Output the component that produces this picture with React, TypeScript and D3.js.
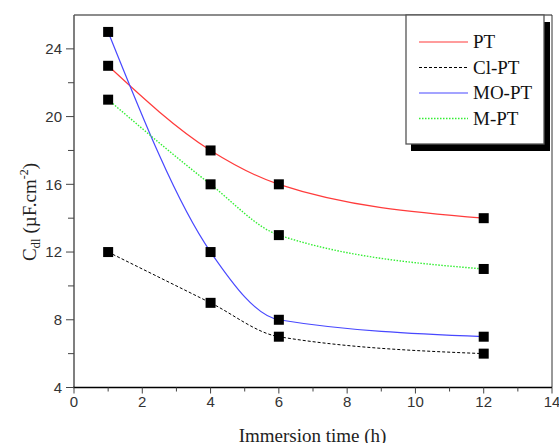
import React from "react";
import * as d3 from "d3";

const times = [1, 4, 6, 12];
const ptValues = [23, 18, 16, 14];
const clPtValues = [12, 9, 7, 6];
const moPtValues = [25, 12, 8, 7];
const mPtValues = [21, 16, 13, 11];
const seriesNames = ["PT", "Cl-PT", "MO-PT", "M-PT"];
const xTicks = [0, 2, 4, 6, 8, 10, 12, 14];
const yTicks = [4, 8, 12, 16, 20, 24];

const W = 559;
const H = 443;
const left = 74;
const right = 552;
const top = 15;
const bottom = 387.5;

export default function App() {
  const x = d3.scaleLinear().domain([0, 14]).range([left, right]);
  const y = d3.scaleLinear().domain([4, 26]).range([bottom, top]);

  const series = [
    { name: seriesNames[0], values: ptValues, color: "#ff3b3b", dash: "none", width: 1.2 },
    { name: seriesNames[1], values: clPtValues, color: "#000000", dash: "3,2", width: 1 },
    { name: seriesNames[2], values: moPtValues, color: "#4848ff", dash: "none", width: 1.2 },
    { name: seriesNames[3], values: mPtValues, color: "#33ee33", dash: "1.5,1.5", width: 1.4 },
  ];

  const line = d3
    .line<[number, number]>()
    .x((d) => x(d[0]))
    .y((d) => y(d[1]))
    .curve(d3.curveMonotoneX);

  const xMinor = d3.range(1, 14, 2);
  const yMinor = d3.range(6, 26, 4);

  const serif = "'Liberation Serif', 'Times New Roman', serif";
  const sans = "'Liberation Sans', Arial, sans-serif";

  return (
    <svg
      width={W}
      height={H}
      style={{ position: "absolute", left: 0, top: 0, background: "#fff" }}
    >
      <rect x={0} y={0} width={W} height={H} fill="#fff" />
      {/* frame */}
      <line x1={left} x2={right} y1={top} y2={top} stroke="#666" strokeWidth={1.5} />
      <line x1={right} x2={right} y1={top} y2={bottom} stroke="#333" strokeWidth={1} />
      <line x1={left} x2={left} y1={top} y2={bottom} stroke="#555" strokeWidth={1.5} />
      <line x1={left - 1} x2={right} y1={bottom} y2={bottom} stroke="#000" strokeWidth={1.3} />

      {/* y ticks */}
      {yTicks.map((t) => (
        <g key={"yt" + t}>
          <line x1={left - 8} x2={left} y1={y(t)} y2={y(t)} stroke="#444" strokeWidth={1} />
          <text
            x={left - 12}
            y={y(t)}
            dy="0.36em"
            textAnchor="end"
            fontFamily={sans}
            fontSize={15}
            fill="#333"
          >
            {t}
          </text>
        </g>
      ))}
      {yMinor.map((t) => (
        <line key={"ym" + t} x1={left - 6} x2={left} y1={y(t)} y2={y(t)} stroke="#444" strokeWidth={1} />
      ))}

      {/* x ticks */}
      {xTicks.map((t) => (
        <g key={"xt" + t}>
          <line x1={x(t)} x2={x(t)} y1={bottom} y2={bottom + 6} stroke="#444" strokeWidth={1} />
          <text
            x={x(t)}
            y={bottom + 19}
            textAnchor="middle"
            fontFamily={sans}
            fontSize={15}
            fill="#333"
          >
            {t}
          </text>
        </g>
      ))}
      {xMinor.map((t) => (
        <line key={"xm" + t} x1={x(t)} x2={x(t)} y1={bottom} y2={bottom + 4} stroke="#444" strokeWidth={1} />
      ))}

      {/* axis titles */}
      <text
        x={(left + right) / 2 - 0.5}
        y={442}
        textAnchor="middle"
        fontFamily={serif}
        fontSize={19}
        fill="#222"
      >
        Immersion time (h)
      </text>
      <text
        transform={`translate(36, 212) rotate(-90)`}
        textAnchor="middle"
        fontFamily={serif}
        fontSize={19}
        fill="#222"
      >
        C
        <tspan fontSize={13} dy={4}>dl</tspan>
        <tspan dy={-4}> (µF.cm</tspan>
        <tspan fontSize={12} dy={-8}>-2</tspan>
        <tspan dy={8}>)</tspan>
      </text>

      {/* curves */}
      {series.map((s) => (
        <path
          key={"l" + s.name}
          d={line(times.map((t, i) => [t, s.values[i]]))!}
          fill="none"
          stroke={s.color}
          strokeWidth={s.width}
          strokeDasharray={s.dash}
        />
      ))}

      {/* markers */}
      {series.map((s) =>
        times.map((t, i) => (
          <rect
            key={"m" + s.name + t}
            x={x(t) - 5}
            y={y(s.values[i]) - 5}
            width={10}
            height={10}
            fill="#000"
          />
        ))
      )}

      {/* legend */}
      <rect x={544} y={22} width={6} height={129} fill="#000" />
      <rect x={411} y={144} width={139} height={7} fill="#000" />
      <rect x={406} y={15} width={138} height={129} fill="#fff" stroke="#555" strokeWidth={1.3} />
      {series.map((s, i) => {
        const ly = 42 + i * 25.5;
        return (
          <g key={"lg" + s.name}>
            <line
              x1={419}
              x2={468}
              y1={ly}
              y2={ly}
              stroke={s.color}
              strokeWidth={s.width}
              strokeDasharray={s.dash}
            />
            <text
              x={473}
              y={ly + 6}
              fontFamily={serif}
              fontSize={19}
              fill="#111"
            >
              {s.name}
            </text>
          </g>
        );
      })}
    </svg>
  );
}
